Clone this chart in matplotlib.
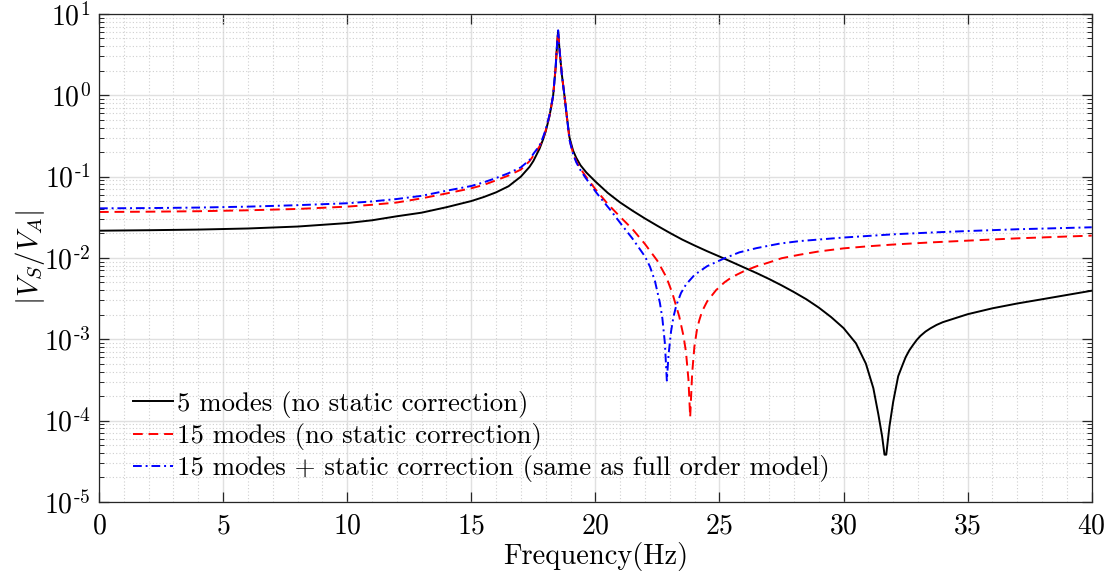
import numpy as np
import matplotlib
matplotlib.use("Agg")
import matplotlib.pyplot as plt
from matplotlib.ticker import MultipleLocator, LogLocator, NullFormatter, FuncFormatter

plt.rcParams['font.family'] = 'cmr10'
plt.rcParams['mathtext.fontset'] = 'cm'
plt.rcParams['axes.formatter.use_mathtext'] = True

# ---- frequency response magnitudes |V_S / V_A| ----
freq_5 = [0, 2, 4, 6, 8, 10, 11, 12, 13, 14, 15, 15.5, 16, 16.5, 17, 17.35,
          17.5, 17.75, 17.9, 18.0, 18.15, 18.22, 18.3, 18.4, 18.45, 18.5,
          18.55, 18.6, 18.65, 18.7, 18.76, 18.85, 18.96, 19.1, 19.23, 19.4,
          19.64, 20.0, 20.5, 21.0, 21.5, 22.0, 22.5, 23.0, 23.5, 24.0, 24.5,
          25.0, 25.5, 26.0, 26.5, 27.0, 27.5, 28.0, 28.5, 29.0, 29.5, 30.0,
          30.5, 30.9, 31.2, 31.4, 31.55, 31.65, 31.72, 31.85, 32.0, 32.2,
          32.35, 32.5, 32.65, 32.8, 32.95, 33.1, 33.3, 33.5, 33.75, 34.0,
          35.0, 36.0, 37.0, 38.0, 39.0, 40.0]
mag_5 = [0.0216, 0.0219, 0.0223, 0.0230, 0.0243, 0.0268, 0.0290, 0.0325,
         0.036, 0.042, 0.050, 0.056, 0.064, 0.076, 0.100, 0.132, 0.155, 0.22,
         0.29, 0.36, 0.55, 0.72, 1.0, 2.2, 3.9, 6.2, 3.8, 2.6, 1.8, 1.35,
         0.96, 0.55, 0.30, 0.21, 0.17, 0.138, 0.112, 0.087, 0.063, 0.048,
         0.038, 0.0305, 0.0248, 0.0203, 0.0168, 0.0142, 0.0121, 0.0104,
         0.0089, 0.0076, 0.0065, 0.0055, 0.0046, 0.0038, 0.0031, 0.00245,
         0.00187, 0.00137, 8.9e-4, 5.0e-4, 2.5e-4, 1.2e-4, 6.5e-5, 3.8e-5,
         3.8e-5, 8.5e-5, 1.7e-4, 3.5e-4, 4.6e-4, 6.0e-4, 7.3e-4, 8.5e-4,
         9.8e-4, 1.1e-3, 1.24e-3, 1.36e-3, 1.5e-3, 1.62e-3, 2.03e-3, 2.4e-3,
         2.75e-3, 3.1e-3, 3.5e-3, 3.95e-3]

freq_15 = [0, 2, 4, 6, 8, 10, 11, 12, 13, 14, 15, 15.5, 16, 16.5, 17, 17.35,
           17.5, 17.75, 17.9, 18.0, 18.15, 18.22, 18.3, 18.4, 18.45, 18.5,
           18.55, 18.6, 18.65, 18.7, 18.76, 18.85, 18.96, 19.1, 19.23, 19.4,
           19.6, 20.0, 20.5, 21.0, 21.5, 22.0, 22.5, 22.86, 23.1, 23.38,
           23.55, 23.65, 23.75, 23.82, 23.9, 23.99, 24.1, 24.19, 24.3, 24.5,
           24.86, 25.2, 25.5, 26.0, 26.5, 27.0, 27.5, 28.2, 29.0, 30.0, 31.0,
           32.0, 33.5, 35.0, 37.0, 40.0]
mag_15 = [0.0367, 0.0370, 0.0375, 0.0385, 0.0400, 0.0427, 0.0450, 0.0480,
          0.054, 0.062, 0.0718, 0.079, 0.090, 0.103, 0.122, 0.155, 0.18,
          0.235, 0.30, 0.37, 0.56, 0.72, 1.0, 2.2, 3.9, 6.0, 3.8, 2.6, 1.8,
          1.35, 0.96, 0.55, 0.28, 0.195, 0.155, 0.125, 0.102, 0.070, 0.046,
          0.032, 0.0225, 0.0148, 0.0092, 0.0058, 0.0037, 0.0019, 1.1e-3,
          7.0e-4, 3.2e-4, 1.1e-4, 3.8e-4, 8.1e-4, 0.00135, 0.00172, 0.0022,
          0.0029, 0.0040, 0.0050, 0.0058, 0.0069, 0.0079, 0.0088, 0.0099,
          0.0109, 0.0120, 0.0131, 0.0139, 0.0146, 0.0155, 0.0163, 0.0174,
          0.0188]

freq_15s = [0, 2, 4, 6, 8, 10, 11, 12, 13, 14, 15, 15.5, 16, 16.5, 17, 17.35,
            17.5, 17.75, 17.9, 18.0, 18.15, 18.22, 18.3, 18.4, 18.45, 18.5,
            18.55, 18.6, 18.65, 18.7, 18.76, 18.85, 18.96, 19.1, 19.23, 19.4,
            19.6, 20.0, 20.2, 20.6, 21.0, 21.5, 22.0, 22.2, 22.4, 22.6, 22.7,
            22.8, 22.88, 22.95, 23.05, 23.15, 23.26, 23.45, 23.65, 24.0, 24.5,
            25.14, 25.8, 26.5, 27.43, 28.23, 30.0, 32.0, 33.5, 35.0, 37.0,
            40.0]
mag_15s = [0.0407, 0.0410, 0.0416, 0.0427, 0.0445, 0.047, 0.0495, 0.053,
           0.058, 0.067, 0.0766, 0.085, 0.096, 0.110, 0.130, 0.16, 0.19, 0.24,
           0.31, 0.38, 0.57, 0.73, 1.0, 2.25, 4.0, 6.3, 3.9, 2.6, 1.8, 1.35,
           0.96, 0.55, 0.28, 0.19, 0.15, 0.12, 0.097, 0.066, 0.055, 0.039,
           0.027, 0.0172, 0.0104, 0.0078, 0.0052, 0.0028, 0.0018, 9.0e-4,
           3.1e-4, 6.5e-4, 0.00125, 0.0019, 0.0026, 0.0037, 0.0047, 0.0062,
           0.0079, 0.0097, 0.0117, 0.0132, 0.0150, 0.0161, 0.0178, 0.0195,
           0.0205, 0.0214, 0.0225, 0.0238]

labels = ["5 modes (no static correction)",
          "15 modes (no static correction)",
          "15 modes + static correction (same as full order model)"]


def decade_label(val, pos):
    # 10^n with a short hyphen for the sign, like a LaTeX text exponent
    n = int(round(np.log10(val)))
    if n < 0:
        return r'$10^{\text{-}%d}$' % (-n)
    return r'$10^{%d}$' % n


fig = plt.figure(figsize=(11.17, 5.80), dpi=100)
ax = fig.add_axes([0.0886, 0.1348, 0.8888, 0.8411])

ax.semilogy(freq_5, mag_5, color='black', lw=1.4, label=labels[0])
ax.semilogy(freq_15, mag_15, color='red', lw=1.4, dashes=(5, 3),
            label=labels[1])
ax.semilogy(freq_15s, mag_15s, color='blue', lw=1.4,
            dashes=(4.5, 2, 1, 2), label=labels[2])

ax.set_xlim(0, 40)
ax.set_ylim(1e-5, 1e1)
ax.xaxis.set_major_locator(MultipleLocator(5))
ax.xaxis.set_minor_locator(MultipleLocator(1))
ax.xaxis.set_minor_formatter(NullFormatter())
ax.yaxis.set_major_locator(LogLocator(base=10, numticks=10))
ax.yaxis.set_major_formatter(FuncFormatter(decade_label))
ax.yaxis.set_minor_locator(LogLocator(base=10, subs=np.arange(2, 10), numticks=20))
ax.yaxis.set_minor_formatter(NullFormatter())

# matlab-like box with inward ticks and light grid
ax.grid(True, which='major', color='#e0e0e0', lw=1.0, ls='-')
ax.grid(True, which='minor', color='#cfcfcf', lw=0.8, ls=(0, (1, 2)))
ax.set_axisbelow(True)
for sp in ax.spines.values():
    sp.set_color('#262626')
    sp.set_linewidth(0.9)
ax.tick_params(which='both', direction='in', top=True, right=True,
               colors='#262626', labelcolor='black', labelsize=20)
ax.tick_params(which='major', length=7, width=0.9)
ax.tick_params(axis='x', which='major', pad=8)
ax.tick_params(axis='y', which='major', pad=6)
ax.tick_params(axis='y', which='minor', length=3.5, width=0.7)
ax.tick_params(axis='x', which='minor', length=0)

ax.set_xlabel("Frequency(Hz)", fontsize=20.5, labelpad=2)
ax.set_ylabel(r"$|V_S/V_A|$", fontsize=21, labelpad=-2)

ax.legend(loc='lower left', bbox_to_anchor=(0.034, 0.04), frameon=False,
          fontsize=19.3, handlelength=1.5, handletextpad=0.15,
          labelspacing=0.2, borderaxespad=0, borderpad=0)

fig.savefig("out.png", dpi=100)
